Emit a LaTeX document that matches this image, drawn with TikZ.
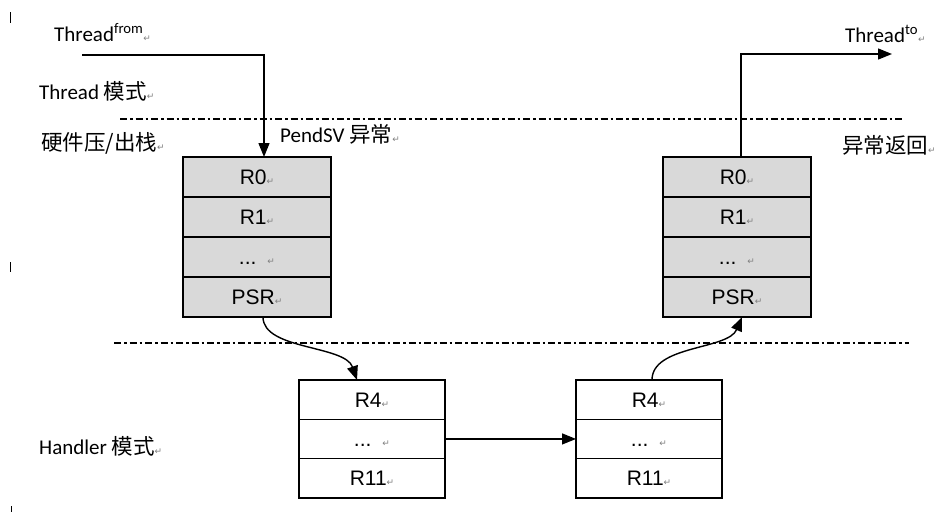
\documentclass[tikz,border=0pt]{standalone}
\usepackage{fontspec}
\setmainfont{Carlito}
\newfontfamily\regfont{Liberation Sans}
\newfontfamily\cjkfont{Noto Sans CJK SC}
\newfontfamily\symfont{DejaVu Sans}
\usetikzlibrary{positioning,arrows.meta}
\definecolor{cellgray}{RGB}{217,217,217}
\newcommand{\ret}{{\fontsize{9}{9}\selectfont\symfont\textcolor{gray}{↵}}}
\newcommand{\cjk}[1]{{\fontsize{21.5}{24}\selectfont\cjkfont #1}}
\tikzset{
  regcell/.style={draw, line width=1.6pt, minimum width=148pt, minimum height=40pt,
    inner sep=0pt, outer sep=0pt, text height=15pt, text depth=0pt,
    font=\fontsize{21}{24}\selectfont\regfont},
  stackcell/.style={regcell, fill=cellgray},
  handcell/.style={regcell, fill=white, minimum width=146pt, minimum height=39.3pt},
  modeline/.style={line width=1.5pt, dash pattern=on 7pt off 3pt on 2.5pt off 3pt},
  flow/.style={line width=1.4pt, -{Triangle[length=14pt,width=11pt]}},
  label/.style={anchor=base west, inner sep=0pt, font=\fontsize{21}{24}\selectfont},
}

\begin{document}
\begin{tikzpicture}[x=1pt,y=-1pt]
\useasboundingbox (0,0) rectangle (937,512);

% mode boundaries
\coordinate (ML1) at (120,119);
\coordinate (MR1) at (904,119);
\coordinate (ML2) at (114,343);
\coordinate (MR2) at (909,343);
\draw[modeline] (ML1) -- (MR1);
\draw[modeline] (ML2) -- (MR2);

% cursor marks
\draw[line width=1pt] (10,12) -- (10,23);
\draw[line width=1pt] (10,262) -- (10,272);
\draw[line width=1pt] (11,506) -- (11,512);

% hardware stack frames
\node[stackcell] (LR0) at (257,177) {R0\ret};
\node[stackcell, below=0pt of LR0] (LR1) {R1\ret};
\node[stackcell, below=0pt of LR1] (LDots) {...\hspace{11pt}\ret};
\node[stackcell, below=0pt of LDots] (LPSR) {PSR\ret};

\node[stackcell] (RR0) at (737,177) {R0\ret};
\node[stackcell, below=0pt of RR0] (RR1) {R1\ret};
\node[stackcell, below=0pt of RR1] (RDots) {...\hspace{11pt}\ret};
\node[stackcell, below=0pt of RDots] (RPSR) {PSR\ret};

% software saved registers
\node[handcell] (HA4) at (372,399.65) {R4\ret};
\node[handcell, below=0pt of HA4] (HADots) {...\hspace{11pt}\ret};
\node[handcell, below=0pt of HADots] (HA11) {R11\ret};

\node[handcell] (HB4) at (649,399.65) {R4\ret};
\node[handcell, below=0pt of HB4] (HBDots) {...\hspace{11pt}\ret};
\node[handcell, below=0pt of HBDots] (HB11) {R11\ret};

% labels
\node[label] (ThFrom) at (54,41) {Thread\textsuperscript{from}\ret};
\node[label] (ThMode) at (39,99) {Thread \cjk{模式}\ret};
\node[label] (HwStack) at (41,150) {\cjk{硬件压/出栈}\ret};
\node[label] (PendSV) at (280,142) {PendSV \cjk{异常}\ret};
\node[label] (ExcRet) at (842,153) {\cjk{异常返回}\ret};
\node[label] (ThTo) at (845,42) {Thread\textsuperscript{to}\ret};
\node[label] (HdMode) at (39,454) {Handler \cjk{模式}\ret};

% flow
\coordinate (FromStart) at (82,55);
\coordinate (ToEnd) at (892,54);
\draw[flow] (FromStart) -| ([xshift=7pt]LR0.north);
\draw[flow] ([xshift=4pt]RR0.north) |- (ToEnd);
\draw[flow] ([xshift=6pt]LPSR.south) .. controls (263,350) and (345,345) .. ([xshift=-15pt]HA4.north);
\draw[flow] (HADots.east) -- (HBDots.west);
\draw[flow] ([xshift=3pt]HB4.north) .. controls (652,345) and (728,350) .. ([xshift=5pt]RPSR.south);
\end{tikzpicture}
\end{document}
